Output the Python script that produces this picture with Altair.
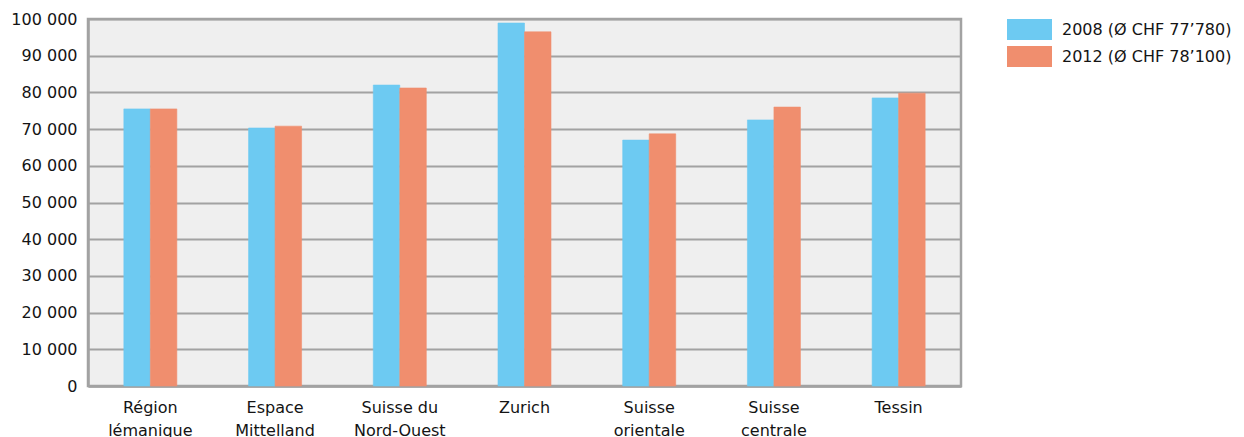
import altair as alt
import pandas as pd

# Average gross monthly wage by large region (CHF), two survey years
regions = [
    "Région|lémanique",
    "Espace|Mittelland",
    "Suisse du|Nord-Ouest",
    "Zurich",
    "Suisse|orientale",
    "Suisse|centrale",
    "Tessin",
]
series = ["2008 (Ø CHF 77’780)", "2012 (Ø CHF 78’100)"]
values_2008 = [75500, 70300, 82000, 98900, 67000, 72500, 78500]
values_2012 = [75500, 70800, 81200, 96500, 68700, 76000, 79800]
y_ticks = list(range(0, 100001, 10000))

colors = ["#6dcaf2", "#f08e6e"]
grey = "#a2a2a2"
font = "DejaVu Sans"
text_color = "#141414"

rows = []
for name, v in zip(regions, values_2008):
    rows.append({"region": name, "series": series[0], "value": v})
for name, v in zip(regions, values_2012):
    rows.append({"region": name, "series": series[1], "value": v})
df = pd.DataFrame(rows)

# wide rectangular legend swatch
swatch = "M-1,-0.467L1,-0.467L1,0.467L-1,0.467Z"

series_scale = alt.Scale(domain=series, range=colors)

chart = (
    alt.Chart(df)
    .mark_bar(strokeWidth=0.6)
    .encode(
        x=alt.X(
            "region:N",
            sort=regions,
            scale=alt.Scale(paddingInner=0.575, paddingOuter=0.2875),
            axis=alt.Axis(
                title=None,
                labelAngle=0,
                labelExpr="split(datum.value, '|')",
                labelFontSize=16,
                labelLineHeight=23,
                labelPadding=13,
                ticks=False,
                domainColor=grey,
                domainWidth=2.5,
            ),
        ),
        xOffset=alt.XOffset("series:N", sort=series),
        y=alt.Y(
            "value:Q",
            scale=alt.Scale(domain=[0, 100000], nice=False),
            axis=alt.Axis(
                title=None,
                values=y_ticks,
                labelExpr="replace(format(datum.value, ','), ',', ' ')",
                labelFontSize=16,
                labelPadding=11,
                ticks=False,
                grid=True,
                gridColor=grey,
                gridWidth=1.8,
                domainColor=grey,
                domainWidth=2.5,
            ),
        ),
        # thin outline in the fill colour closes the seam between paired bars
        stroke=alt.Stroke("series:N", scale=series_scale, legend=None),
        color=alt.Color(
            "series:N",
            scale=series_scale,
            legend=alt.Legend(
                title=None,
                orient="none",
                legendX=919,
                legendY=0,
                symbolType=swatch,
                symbolSize=2025,
                symbolStrokeWidth=0,
                symbolOpacity=1,
                clipHeight=21,
                rowPadding=6,
                padding=0,
                labelOffset=10,
                labelFontSize=16,
                labelFont=font,
                labelColor=text_color,
                labelLimit=400,
            ),
        ),
    )
    .properties(
        width=873,
        height=367,
        autosize=alt.AutoSizeParams(type="none"),
        padding={"left": 88, "top": 19, "right": 283, "bottom": 51},
        background="white",
    )
    .configure_view(fill="#efefef", stroke=grey, strokeWidth=2.5)
    .configure_axis(labelFont=font, labelColor=text_color)
)

chart.save("out.html", embed_options={"renderer": "svg", "actions": False})
